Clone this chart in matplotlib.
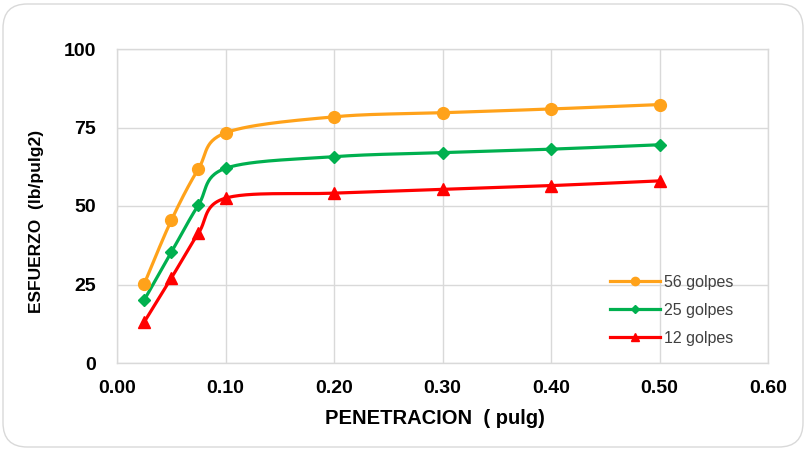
import numpy as np
import matplotlib
matplotlib.use("Agg")
import matplotlib.pyplot as plt
from matplotlib.patches import FancyBboxPatch

plt.rcParams['font.family'] = ['Liberation Sans', 'DejaVu Sans']

# Penetration (in) and stress (lb/in2) for each compaction level
penetracion = [0.025, 0.05, 0.075, 0.10, 0.20, 0.30, 0.40, 0.50]
golpes_56 = [25.1, 45.4, 61.8, 73.3, 78.4, 79.7, 80.9, 82.3]
golpes_25 = [20.0, 35.2, 50.3, 62.0, 65.7, 67.0, 68.1, 69.5]
golpes_12 = [13.0, 27.0, 41.3, 52.5, 54.1, 55.3, 56.5, 58.0]

series_labels = ["56 golpes", "25 golpes", "12 golpes"]
series_colors = ["#FFA21A", "#00B04F", "#FF0000"]
series_markers = ["o", "D", "^"]
series_msize = [8.5, 6.5, 8.5]

x_ticks = [0.0, 0.1, 0.2, 0.3, 0.4, 0.5, 0.6]
y_ticks = [0, 25, 50, 75, 100]

W, H = 807, 450
fig = plt.figure(figsize=(W / 100, H / 100), dpi=100)
fig.patch.set_facecolor("white")

# rounded outer border
border = FancyBboxPatch((3 / W, 3 / H), 1 - 7 / W, 1 - 7 / H,
                        boxstyle="round,pad=0,rounding_size=0.03",
                        transform=fig.transFigure, facecolor="none",
                        edgecolor="#D9D9D9", linewidth=1.0, zorder=0,
                        mutation_aspect=W / H)
fig.patches.append(border)

left, right, top, bottom = 117 / W, 768 / W, 1 - 49 / H, 1 - 363 / H
ax = fig.add_axes([left, bottom, right - left, top - bottom])
ax.set_zorder(2)
ax.set_xlim(0, 0.6)
ax.set_ylim(0, 100)


def smooth(xs, ys, sx, sy, n=30):
    """Bezier smoothing through the points (Excel-style), computed in scaled units."""
    px = np.asarray(xs) * sx
    py = np.asarray(ys) * sy
    P = np.column_stack([px, py])
    pts = []
    m = len(P)
    for i in range(m - 1):
        p0 = P[i - 1] if i > 0 else P[i]
        p1 = P[i]
        p2 = P[i + 1]
        p3 = P[i + 2] if i + 2 < m else P[i + 1]
        c1 = p1 + (p2 - p0) / 6.0
        c2 = p2 - (p3 - p1) / 6.0
        t = np.linspace(0, 1, n)[:, None]
        seg = ((1 - t) ** 3) * p1 + 3 * ((1 - t) ** 2) * t * c1 + 3 * (1 - t) * t ** 2 * c2 + t ** 3 * p2
        pts.append(seg if i == 0 else seg[1:])
    pts = np.vstack(pts)
    return pts[:, 0] / sx, pts[:, 1] / sy


sx = (768 - 117) / 0.6
sy = (363 - 49) / 100.0

for ys, lab, col, mk, ms in zip([golpes_56, golpes_25, golpes_12], series_labels,
                                series_colors, series_markers, series_msize):
    cx, cy = smooth(penetracion, ys, sx, sy)
    ax.plot(cx, cy, color=col, linewidth=2.3, solid_capstyle="round", zorder=3)
    ax.plot(penetracion, ys, linestyle="none", marker=mk, markersize=ms,
            color=col, zorder=4)
    ax.plot([], [], color=col, linewidth=2.3, marker=mk, markersize=ms * 0.7, label=lab)

ax.set_xticks(x_ticks)
ax.set_yticks(y_ticks)
ax.set_xticklabels([f"{v:.2f}" for v in x_ticks])
ax.set_yticklabels([str(v) for v in y_ticks])
ax.tick_params(axis="both", length=0, labelsize=14, colors="#000000")
ax.tick_params(axis="y", pad=15)
ax.tick_params(axis="x", pad=12)
for lbl in ax.get_xticklabels() + ax.get_yticklabels():
    lbl.set_fontweight("bold")

ax.grid(True, color="#D9D9D9", linewidth=1.0)
ax.set_axisbelow(True)
for s in ax.spines.values():
    s.set_color("#D9D9D9")
    s.set_linewidth(1.0)

ax.set_xlabel("PENETRACION  ( pulg)", fontsize=14.5, fontweight="bold")
ax.set_ylabel("ESFUERZO  (lb/pulg2)", fontsize=12.5, fontweight="bold")
ax.xaxis.set_label_coords((435 - 117) / 651, (363 - 409) / 314)
ax.yaxis.set_label_coords((44 - 117) / 651, (363 - 221) / 314)

leg = ax.legend(loc="upper left", bbox_to_anchor=((610 - 117) / 651, (363 - 275) / 314),
                frameon=False, fontsize=11.5, handlelength=3.1, handletextpad=0.3,
                labelspacing=0.8, borderpad=0, borderaxespad=0,
                labelcolor="#404040")

fig.savefig("out.png", dpi=100, facecolor="white")
